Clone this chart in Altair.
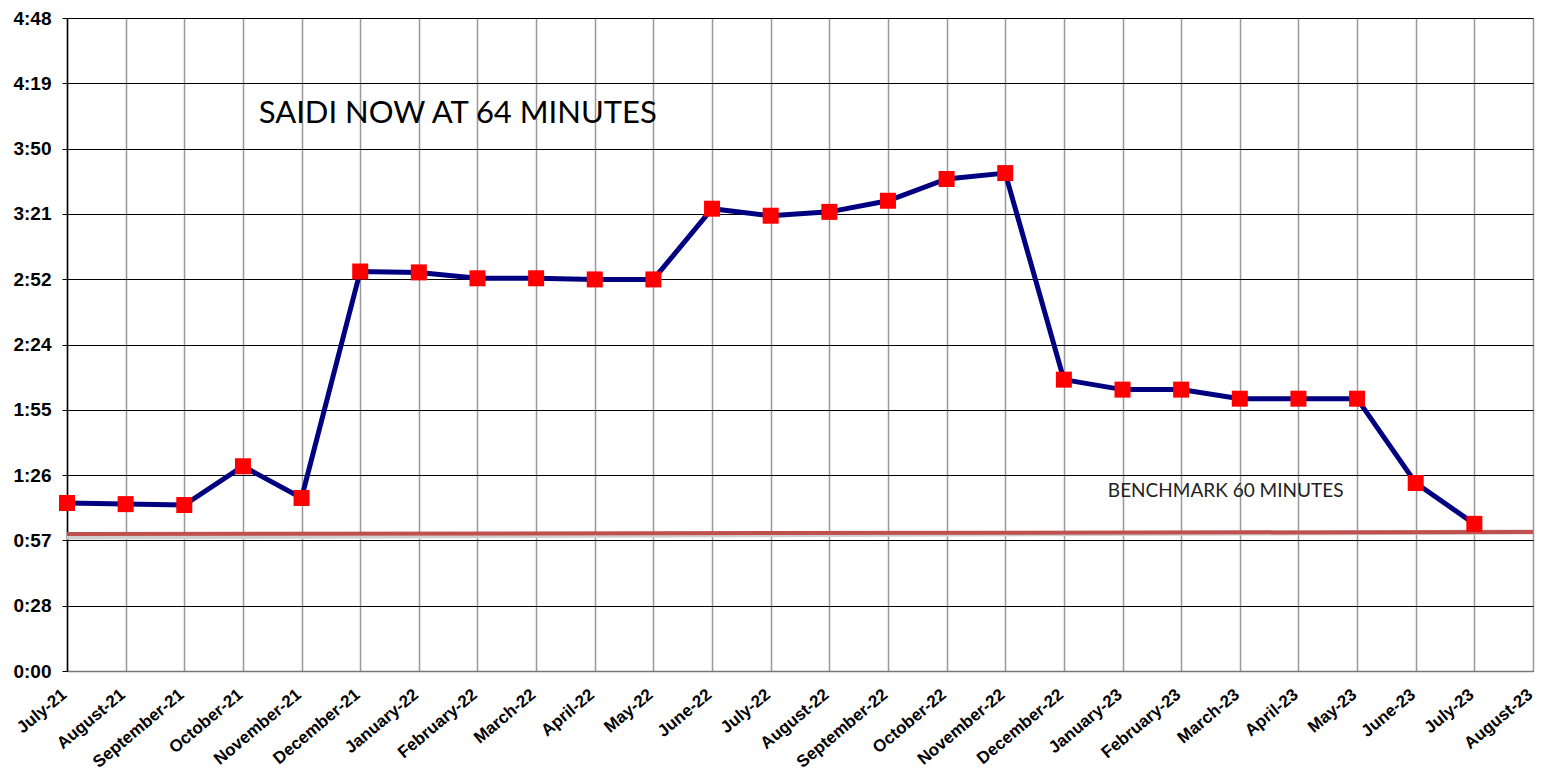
import altair as alt
import pandas as pd

months = ["July-21", "August-21", "September-21", "October-21", "November-21", "December-21",
          "January-22", "February-22", "March-22", "April-22", "May-22", "June-22",
          "July-22", "August-22", "September-22", "October-22", "November-22", "December-22",
          "January-23", "February-23", "March-23", "April-23", "May-23", "June-23",
          "July-23", "August-23"]
# SAIDI in minutes (one value per month, July-21 .. July-23)
saidi = [74.1, 73.6, 73.2, 90.3, 76.3, 176.2, 175.8, 173.2, 173.2, 172.7, 172.7, 203.9,
         200.8, 202.5, 207.4, 217.0, 219.6, 128.5, 124.1, 124.1, 120.1, 120.1, 120.1, 82.9, 64.9]
y_ticks = [round(28.8 * k, 1) for k in range(11)]  # 0:00 .. 4:48
bench_start, bench_end = 60.4, 61.3

df = pd.DataFrame({"i": list(range(len(saidi))), "v": saidi})
bench = pd.DataFrame({"x": [0], "x2": [len(months) - 1], "y": [bench_start], "y2": [bench_end]})
notes = pd.DataFrame({"x": [3.27], "y": [241.6], "t": ["SAIDI NOW AT 64 MINUTES"]})
notes2 = pd.DataFrame({"x": [17.75], "y": [76.7], "t": ["BENCHMARK 60 MINUTES"]})

month_js = "[" + ",".join("'" + m + "'" for m in months) + "]"

xscale = alt.Scale(domain=[0, len(months) - 1], nice=False, zero=False)
yscale = alt.Scale(domain=[0, 288], nice=False)

xaxis = alt.Axis(values=list(range(len(months))), labelExpr=month_js + "[datum.value]",
                 title=None, grid=True, gridColor="#999999", gridWidth=1.5,
                 domainColor="#777777", domainWidth=1.5, ticks=False,
                 labelAngle=-40, labelAlign="right", labelBaseline="middle", labelPadding=21,
                 labelOffset=-3,
                 labelFont="Liberation Sans", labelFontWeight="bold", labelFontSize=17,
                 labelColor="#000000", labelOverlap=False, labelBound=False, labelFlush=False)
yaxis = alt.Axis(values=y_ticks,
                 labelExpr="floor(datum.value/60) + ':' + (floor(datum.value%60) < 10 ? '0' : '') + floor(datum.value%60)",
                 title=None, grid=True, gridColor="#000000", gridWidth=1,
                 domainColor="#000000", domainWidth=1.5, tickColor="#000000", tickSize=5,
                 labelPadding=11, labelFont="Liberation Sans", labelFontWeight="bold",
                 labelFontSize=19, labelColor="#000000", labelOverlap=False, labelFlush=False)

base_axes = alt.Chart(df).mark_point(opacity=0).encode(
    x=alt.X("i:Q", scale=xscale, axis=xaxis),
    y=alt.Y("v:Q", scale=yscale, axis=yaxis),
)

shadow = alt.Chart(bench).mark_rule(color="#cfcfcf", strokeWidth=5, yOffset=3, strokeCap="butt").encode(
    x=alt.X("x:Q", scale=xscale), x2="x2", y=alt.Y("y:Q", scale=yscale), y2="y2")
bline = alt.Chart(bench).mark_rule(color="#C0504D", strokeWidth=4, strokeCap="butt").encode(
    x=alt.X("x:Q", scale=xscale), x2="x2", y=alt.Y("y:Q", scale=yscale), y2="y2")

line = alt.Chart(df).mark_line(color="#000080", strokeWidth=5).encode(
    x=alt.X("i:Q", scale=xscale), y=alt.Y("v:Q", scale=yscale))
pts = alt.Chart(df).mark_point(shape="square", filled=True, color="#FF0000", size=256, opacity=1).encode(
    x=alt.X("i:Q", scale=xscale), y=alt.Y("v:Q", scale=yscale))

t1 = alt.Chart(notes).mark_text(align="left", baseline="alphabetic", font="Lato", fontSize=31,
                                color="#000000").encode(
    x=alt.X("x:Q", scale=xscale), y=alt.Y("y:Q", scale=yscale), text="t:N")
t2 = alt.Chart(notes2).mark_text(align="left", baseline="alphabetic", font="Lato", fontSize=19,
                                 color="#222222").encode(
    x=alt.X("x:Q", scale=xscale), y=alt.Y("y:Q", scale=yscale), text="t:N")

chart = alt.layer(base_axes, shadow, bline, line, pts, t1, t2).properties(
    width=1466, height=653,
    autosize=alt.AutoSizeParams(type="none"),
    padding={"left": 59, "top": 10, "right": 2, "bottom": 100},
).configure_view(stroke=None).configure(background="#ffffff")

chart.save("out.html", embed_options={"renderer": "svg", "actions": False})
